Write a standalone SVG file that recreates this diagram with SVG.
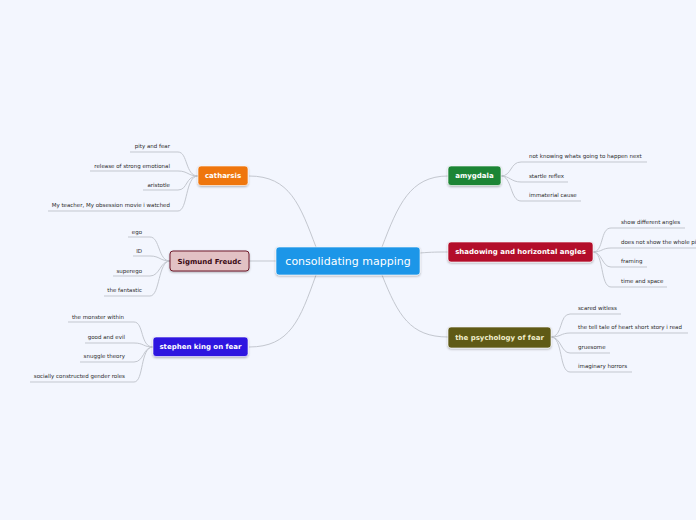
<svg xmlns="http://www.w3.org/2000/svg" width="696" height="520" viewBox="0 0 696 520">
<defs>
<filter id="sh" x="-20%" y="-30%" width="140%" height="170%"><feDropShadow dx="0" dy="1" stdDeviation="0.8" flood-color="#000" flood-opacity="0.3"/></filter>
</defs>
<style>
.bg{fill:#f3f6fe}
.c{fill:none;stroke:#c3c7cf;stroke-width:1}
.lf{font-family:"DejaVu Sans",Verdana,sans-serif;font-size:5.5px;fill:#2a2a2a}
.nt{font-family:"DejaVu Sans",Verdana,sans-serif;font-size:7px;font-weight:bold;fill:#fff;text-anchor:middle;dominant-baseline:central}
.nb{stroke:#fff;stroke-opacity:0.6;stroke-width:1;filter:url(#sh)}
</style>
<rect class="bg" width="696" height="520"/>
<g id="connectors">
<path class="c" d="M316 247 C300 205 290 176 249 176"/>
<path class="c" d="M276 261 L249 261"/>
<path class="c" d="M316 275 C300 320 290 347 249 347"/>
<path class="c" d="M382 247 C398 205 410 176 448 176"/>
<path class="c" d="M420 253 C432 252 438 252 448 252"/>
<path class="c" d="M382 275 C398 315 410 337 448 337"/>
<path class="c" d="M198 176 C185 176 188 152 178 152 L130 152"/>
<path class="c" d="M198 176 C188 176 188 171 178 171 L90 171"/>
<path class="c" d="M198 176 C185 176 188 190 178 190 L143 190"/>
<path class="c" d="M198 176 C185 176 188 211 178 211 L48 211"/>
<path class="c" d="M170 261 C158 261 160 237 150 237 L128 237"/>
<path class="c" d="M170 261 C160 261 160 256 150 256 L133 256"/>
<path class="c" d="M170 261 C160 261 160 276 150 276 L113 276"/>
<path class="c" d="M170 261 C158 261 160 296 150 296 L104 296"/>
<path class="c" d="M153 347 C140 347 144 322 134 322 L68 322"/>
<path class="c" d="M153 347 C143 347 144 343 134 343 L85 343"/>
<path class="c" d="M153 347 C143 347 144 362 134 362 L80 362"/>
<path class="c" d="M153 347 C140 347 144 382 134 382 L30 382"/>
<path class="c" d="M501 176 C512 176 510 162 521 162 L647 162"/>
<path class="c" d="M501 176 C510 176 511 182 521 182 L568 182"/>
<path class="c" d="M501 176 C512 176 510 201 521 201 L581 201"/>
<path class="c" d="M593 252 C604 252 600 228 611 228 L685 228"/>
<path class="c" d="M593 252 C602 252 602 248 611 248 L696 248"/>
<path class="c" d="M593 252 C602 252 602 267 611 267 L647 267"/>
<path class="c" d="M593 252 C604 252 600 287 611 287 L667 287"/>
<path class="c" d="M551 337 C563 337 559 314 570 314 L621 314"/>
<path class="c" d="M551 337 C561 337 561 333 570 333 L688 333"/>
<path class="c" d="M551 337 C561 337 561 353 570 353 L610 353"/>
<path class="c" d="M551 337 C563 337 559 372 570 372 L632 372"/>
</g>
<g id="central">
<rect x="276" y="247" width="144" height="28" rx="3" fill="#1a96e8" class="nb"/>
<text x="348" y="261.5" text-anchor="middle" dominant-baseline="central" font-family="DejaVu Sans,Verdana,sans-serif" font-size="11" fill="#fff">consolidating mapping</text>
</g>
<g id="catharsis">
<rect x="198" y="166" width="50" height="19.5" rx="3" fill="#ef760f" class="nb"/>
<text class="nt" x="223" y="176">catharsis</text>
<text class="lf" x="170" y="148" text-anchor="end">pity and fear</text>
<text class="lf" x="170" y="168" text-anchor="end">release of strong emotional</text>
<text class="lf" x="170" y="187" text-anchor="end">aristotle</text>
<text class="lf" x="170" y="207" text-anchor="end">My teacher, My obsession movie i watched</text>
</g>
<g id="freud">
<rect x="170" y="251" width="79" height="20" rx="3" fill="#e2c1c4" stroke="#6e1a2a" stroke-width="1" filter="url(#sh)"/>
<text class="nt" x="209.5" y="261.5" style="fill:#3a0a14">Sigmund Freudc</text>
<text class="lf" x="142" y="234" text-anchor="end">ego</text>
<text class="lf" x="142" y="253" text-anchor="end">ID</text>
<text class="lf" x="142" y="273" text-anchor="end">superego</text>
<text class="lf" x="142" y="292" text-anchor="end">the fantastic</text>
</g>
<g id="stephen">
<rect x="153" y="337" width="95" height="19.5" rx="3" fill="#2d13e0" class="nb"/>
<text class="nt" x="200.5" y="347">stephen king on fear</text>
<text class="lf" x="124" y="319" text-anchor="end">the monster within</text>
<text class="lf" x="125" y="339" text-anchor="end">good and evil</text>
<text class="lf" x="125" y="358" text-anchor="end">snuggle theory</text>
<text class="lf" x="125" y="378" text-anchor="end">socially constructed gender roles</text>
</g>
<g id="amygdala">
<rect x="448" y="166" width="53" height="19.5" rx="3" fill="#1c8535" class="nb"/>
<text class="nt" x="474.5" y="176">amygdala</text>
<text class="lf" x="529" y="158">not knowing whats going to happen next</text>
<text class="lf" x="529" y="178">startle reflex</text>
<text class="lf" x="529" y="197">immaterial cause</text>
</g>
<g id="shadowing">
<rect x="448" y="242" width="145" height="20" rx="3" fill="#b30c2b" class="nb"/>
<text class="nt" x="520.5" y="252">shadowing and horizontal angles</text>
<text class="lf" x="621" y="224">show different angles</text>
<text class="lf" x="621" y="244">does not show the whole pi</text>
<text class="lf" x="621" y="263">framing</text>
<text class="lf" x="621" y="283">time and space</text>
</g>
<g id="psychology">
<rect x="448" y="327" width="103" height="21" rx="3" fill="#5f5a19" class="nb"/>
<text class="nt" x="499.5" y="337.5" style="fill:#f0eecc">the psychology of fear</text>
<text class="lf" x="578" y="310">scared witless</text>
<text class="lf" x="578" y="329">the tell tale of heart short story i read</text>
<text class="lf" x="578" y="349">gruesome</text>
<text class="lf" x="578" y="368">imaginary horrors</text>
</g>
</svg>
